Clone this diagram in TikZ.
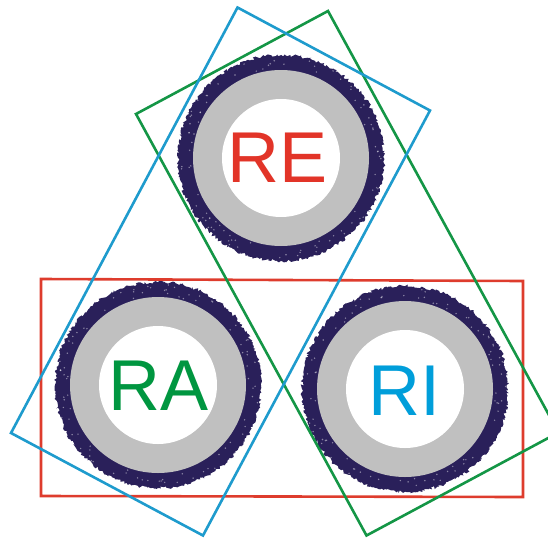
\documentclass[tikz,border=0pt]{standalone}
\usepackage{fontspec}
\setmainfont{Liberation Sans}
\usetikzlibrary{decorations.pathmorphing,calc}
\definecolor{navy}{RGB}{42,32,90}
\definecolor{ringgray}{RGB}{192,192,192}
\definecolor{rred}{RGB}{226,52,40}
\definecolor{rgreen}{RGB}{0,150,64}
\definecolor{rblue}{RGB}{0,158,218}
\definecolor{lred}{RGB}{222,60,45}
\definecolor{lgreen}{RGB}{20,150,70}
\definecolor{lblue}{RGB}{30,155,205}
\tikzset{
  rough/.style={decorate,decoration={random steps,segment length=1.6pt,amplitude=1.6pt}},
  lbl/.style={anchor=base,inner sep=0pt,font=\fontsize{72}{72}\selectfont},
  frame/.style={line width=2.6pt,line join=miter}
}
\newcommand{\ringat}[2]{%
  \fill[navy,rough] (#1,#2) circle (103);
  \foreach \k in {1,...,90}{
    \pgfmathsetmacro{\ang}{rnd*360}
    \pgfmathsetmacro{\rad}{90+rnd*12}
    \fill[white,opacity=0.45] ($(#1,#2)+(\ang:\rad)$) circle (0.8);
  }
  \fill[ringgray] (#1,#2) circle (88);
  \fill[white] (#1,#2) circle (59);
}
\begin{document}
\begin{tikzpicture}[x=1pt,y=-1pt]
\pgfmathsetseed{7}
\useasboundingbox (0,0) rectangle (548,538);
\clip (0,0) rectangle (548,538);
\ringat{281}{158}
\ringat{158}{385}
\ringat{405}{389}
\node[lbl,text=rred] (re) at (278,182) {RE};
\node[lbl,text=rgreen] (ra) at (159,410) {RA};
\node[lbl,text=rblue] (ri) at (404.5,415) {RI};
\draw[frame,lred] (41,279) -- (523,281) -- (523,497) -- (41,496) -- cycle;
\draw[frame,lgreen] (328,11) -- (558.5,432.5) -- (366.5,535.5) -- (136,114) -- cycle;
\draw[frame,lblue] (237.5,7.5) -- (430,110.5) -- (203,535.5) -- (11,433) -- cycle;
\end{tikzpicture}
\end{document}
